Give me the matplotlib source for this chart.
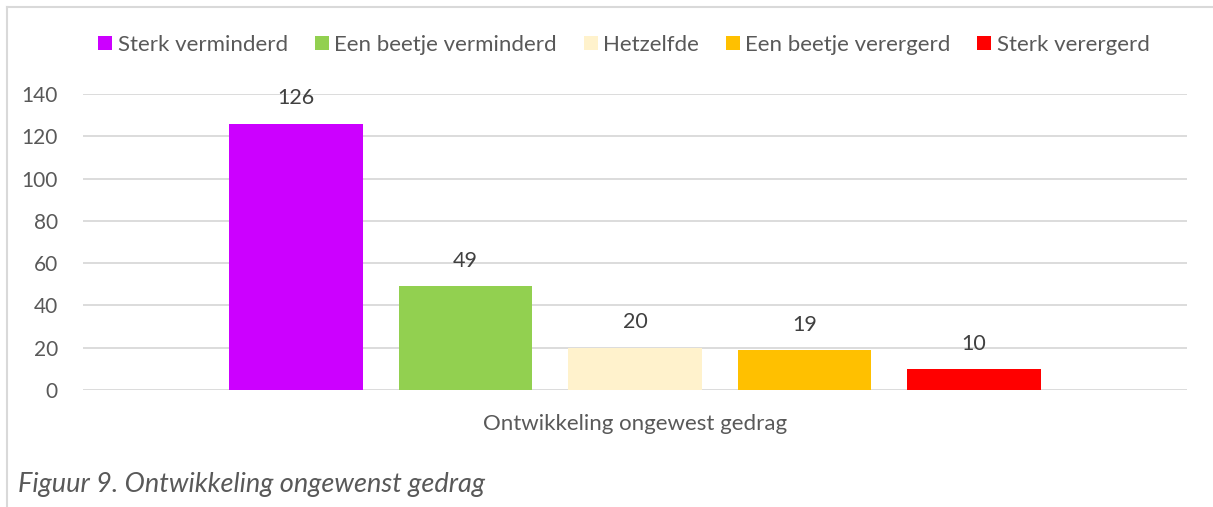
import matplotlib.pyplot as plt
from matplotlib.lines import Line2D
import numpy as np

categories = ["Ontwikkeling ongewest gedrag"]
series = ["Sterk verminderd", "Een beetje verminderd", "Hetzelfde",
          "Een beetje verergerd", "Sterk verergerd"]
values = [126, 49, 20, 19, 10]
colors = ["#cc00ff", "#92d050", "#fff2cc", "#ffc000", "#ff0000"]

plt.rcParams['font.family'] = ['Lato', 'DejaVu Sans']
text_col = "#595959"

fig = plt.figure(figsize=(12.13, 5.07), dpi=100)
W, H = 1213, 507
ax = fig.add_axes([83 / W, 1 - 390 / H, (1187 - 83) / W, (390 - 94) / H])

n = len(series)
width = 0.79
offsets = np.arange(n) - (n - 1) / 2
for i in range(n):
    ax.bar(offsets[i], values[i], width=width, color=colors[i], label=series[i], zorder=3)
    ax.annotate(str(values[i]), (offsets[i], values[i]), xytext=(0, 11),
                textcoords="offset points", ha="center", va="bottom",
                fontsize=15.5, color="#404040")

ax.set_xlim(-3.257, 3.257)
ax.set_ylim(0, 140)
ax.set_yticks(range(0, 141, 20))
ax.set_xticks([0])
ax.set_xticklabels(categories)
ax.tick_params(axis="both", length=0, labelcolor=text_col)
ax.tick_params(axis="y", pad=18, labelsize=15)
ax.tick_params(axis="x", pad=17, labelsize=16)
ax.grid(axis="y", color="#d9d9d9", linewidth=1.3, zorder=0)
for s in ax.spines.values():
    s.set_visible(False)

fig.legend(loc="center", bbox_to_anchor=(624 / W, 1 - 45 / H), ncol=5, frameon=False,
           fontsize=16, labelcolor=text_col, handlelength=0.63, handleheight=0.63,
           handletextpad=0.25, columnspacing=1.2)

fig.text(18 / W, 1 - 492 / H, "Figuur 9. Ontwikkeling ongewenst gedrag", fontsize=19.5,
         style="italic", color=text_col, ha="left", va="baseline")

frame_col = "#d9d9d9"
fig.add_artist(Line2D([7 / W, 7 / W], [0, 1 - 7 / H], color=frame_col, linewidth=1.5,
                      transform=fig.transFigure))
fig.add_artist(Line2D([7 / W, 1], [1 - 7 / H, 1 - 7 / H], color=frame_col, linewidth=1.5,
                      transform=fig.transFigure))

fig.savefig("out.png", dpi=100)
